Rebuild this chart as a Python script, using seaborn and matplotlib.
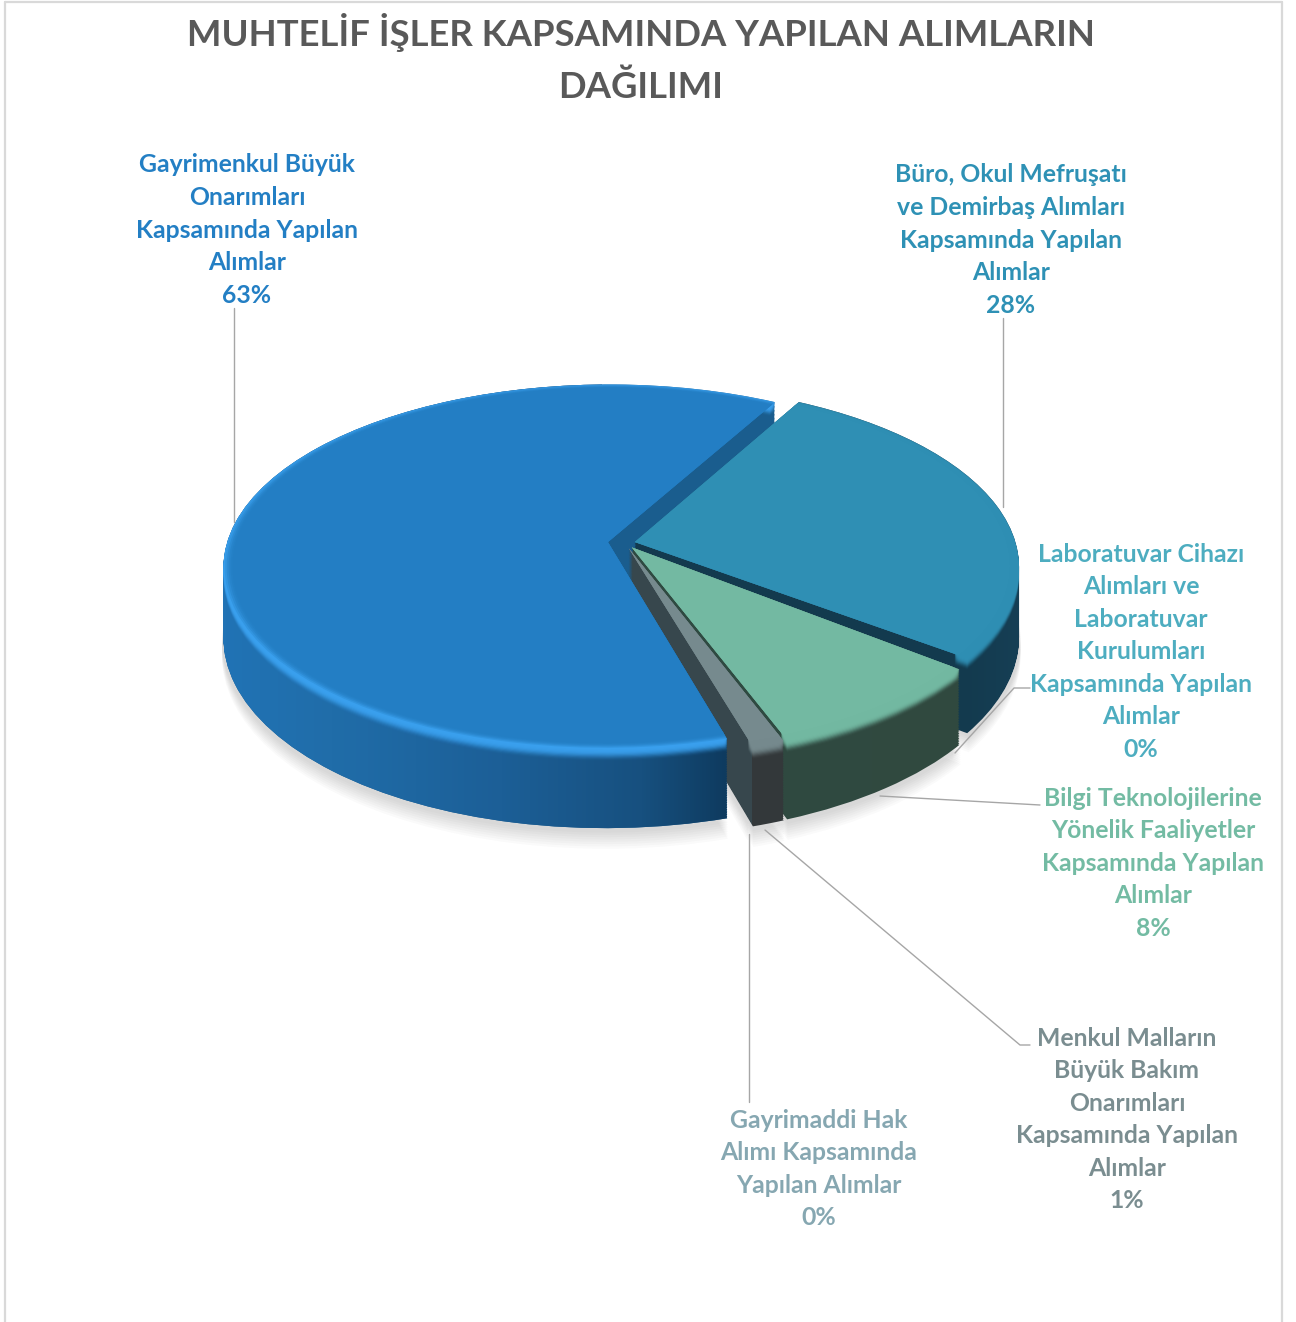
import numpy as np
import seaborn as sns
import matplotlib
matplotlib.use("Agg")
import matplotlib.pyplot as plt
from matplotlib.colors import to_rgb
from matplotlib.path import Path
from matplotlib.transforms import Transform

sns.set_theme(style="white")
plt.rcParams['font.family'] = ['Lato', 'DejaVu Sans']

# clockwise from the upper right
categories = [
    "Büro, Okul Mefruşatı\nve Demirbaş Alımları\nKapsamında Yapılan\nAlımlar",
    "Laboratuvar Cihazı\nAlımları ve\nLaboratuvar\nKurulumları\nKapsamında Yapılan\nAlımlar",
    "Bilgi Teknolojilerine\nYönelik Faaliyetler\nKapsamında Yapılan\nAlımlar",
    "Menkul Malların\nBüyük Bakım\nOnarımları\nKapsamında Yapılan\nAlımlar",
    "Gayrimaddi Hak\nAlımı Kapsamında\nYapılan Alımlar",
    "Gayrimenkul Büyük\nOnarımları\nKapsamında Yapılan\nAlımlar",
]
# slice sizes as measured on the picture, the labels give the rounded figures
percent = [27.15, 0.45, 8.6, 1.2, 0.05, 62.55]
shown_percent = ["28%", "0%", "8%", "1%", "0%", "63%"]
title_lines = ["MUHTELİF İŞLER KAPSAMINDA YAPILAN ALIMLARIN", "DAĞILIMI"]

explode = [0.026, 0, 0.03, 0.03, 0, 0.045]
face_colors = sns.color_palette(["#2f8fb4", "#4aaabc", "#73b9a2", "#768a8e", "#86a7b1", "#237ec4"])
label_colors = ["#2e91b5", "#4dadc0", "#73bba3", "#7a8d90", "#86a7b1", "#237fc4"]
label_pos = [(1011, 175), (1141, 554), (1153, 798), (1127, 1038), (819, 1120), (247, 165)]

# (x stops in pixels, colours) for the side walls
wall_shades = {
    0: ([960, 1020], ["#133a4e", "#163f55"]),
    2: ([780, 960], ["#2f4a41", "#31493f"]),
    3: ([728, 750, 752, 785], ["#37474d", "#37474d", "#33383a", "#33383a"]),
    5: ([224, 330, 500, 640, 728], ["#2173b5", "#206da9", "#1c5f97", "#17507f", "#0e3a5e"]),
}
rim_colors = {0: "#2f8fb4", 2: "#73b9a2", 3: "#768a8e", 5: "#3aa0ee"}

W, H = 1296, 1322
cx, cy, Rx, Ry = 625, 543, 381, 179
K = 0.134
DEPTH = 70


class Tilt(Transform):
    # puts the flat pie on a tilted table, z is how far down in pixels
    input_dims = 2
    output_dims = 2

    def __init__(self, z=0):
        super().__init__()
        self.z = z / Ry

    def transform_non_affine(self, xy):
        xy = np.asarray(xy, dtype=float)
        w = 1 + K * xy[:, 1]
        return np.column_stack([xy[:, 0] / w, (xy[:, 1] - self.z) / w])


def layer(colors, z, radius=1.0, **kw):
    wedges, _ = ax.pie(percent, explode=explode, colors=colors, startangle=61, counterclock=False,
                       radius=radius, wedgeprops=dict(linewidth=0, **kw))
    for w in wedges:
        w.set_transform(Tilt(z) + ax.transData)
    return wedges


def only(wedges, i, zorder):
    for j, w in enumerate(wedges):
        w.set_visible(j == i)
    wedges[i].set_zorder(zorder)
    return wedges[i]


fig = plt.figure(figsize=(W / 100, H / 100), dpi=100, facecolor="white")
ax = fig.add_axes([0, 0, 1, 1])
over = fig.add_axes([0, 0, 1, 1], zorder=5)
over.set_xlim(0, W)
over.set_ylim(H, 0)
over.axis("off")

# soft shadow under the pie
for z in range(DEPTH + 16, DEPTH, -2):
    for w in layer(["#606060"] * 6, z, radius=1.004, alpha=0.03):
        w.set_zorder(1)

order = [5, 0, 2, 3]
wall_order = [0, 2, 3, 5]
extent = ((0 - cx) / Rx, (W - cx) / Rx, (cy - H) / Ry, cy / Ry)
xs = np.arange(0, W, 2)
ys = np.arange(0, H, 2)
clips = {}
for rank, i in enumerate(order):
    base = 20 + rank * 10
    paths = []
    for z in np.arange(0, DEPTH + 0.5, 1.5):
        w = layer(face_colors, z)
        for other in w:
            other.set_visible(False)
        paths.append(Tilt(z).transform_path(w[i].get_path()))
    clips[i] = Path.make_compound_path(*paths)
    # fading rim, a thin ring so it stays off the flat cut faces
    for z in np.arange(11, -0.5, -1.0):
        rim = only(layer(face_colors, z, width=0.035), i, base + 2)
        rim.set_facecolor(rim_colors[i])
        rim.set_alpha(0.9 * (1 - z / 11.5) ** 1.3)
    # top face, its edge melts into the rim
    for radius, alpha in [(0.997, 0.3), (0.992, 0.4), (0.987, 0.5), (0.982, 0.6), (0.977, 1.0)]:
        top = only(layer(face_colors, 0, radius=radius), i, base + 3)
        top.set_alpha(alpha)

# all walls sit under all top faces
for rank, i in enumerate(wall_order):
    stops, cols = wall_shades[i]
    rgb = np.array([to_rgb(c) for c in cols])
    row = np.column_stack([np.interp(xs, stops, rgb[:, k]) for k in range(3)] + [np.ones(len(xs))])
    img = np.repeat(row[None, :, :], len(ys), axis=0)
    if i == 5:
        # the cut face of the big slice is flat and lies behind the other walls,
        # only the round wall stays in front of them
        yy, xx = np.meshgrid(ys, xs, indexing="ij")
        img[(xx > 600) & (yy < 625), 3] = 0
        band = ax.imshow(np.full((2, 2, 3), to_rgb("#1a5d8e")), extent=extent, aspect="auto", zorder=10)
        band.set_clip_path(clips[i], ax.transData)
    im = ax.imshow(img, extent=extent, origin="upper", aspect="auto", interpolation="nearest",
                   zorder=11 + rank)
    im.set_clip_path(clips[i], ax.transData)
ax.set_aspect("auto")
ax.set_xlim(extent[0], extent[1])
ax.set_ylim(extent[2], extent[3])
ax.axis("off")

# outer frame of the screenshot
for xx, yy in [([5, 5], [2, H]), ([1282, 1282], [2, H]), ([5, 1282], [2, 2])]:
    over.plot(xx, yy, color="#d9d9d9", lw=1.6)

# leader lines
leaders = [
    ([1003, 1003], [318, 507]),
    ([1030, 1014, 955], [688, 688, 753]),
    ([880, 1040], [796, 805]),
    ([765, 1020, 1030], [830, 1045, 1045]),
    ([749, 749], [834, 1102]),
    ([234, 234], [308, 522]),
]
for xx, yy in leaders:
    over.plot(xx, yy, color="#a6a6a6", lw=1.0)

# labels, one text per line because the spacing is tight
for name, pct, (x, y), col in zip(categories, shown_percent, label_pos, label_colors):
    for n, line in enumerate(name.split("\n") + [pct]):
        over.text(x, y + n * 32.6, line, ha="center", va="center", color=col,
                  fontsize=17.8, fontweight="bold")

over.text(641, 33, title_lines[0], ha="center", va="center", color="#595959",
          fontsize=26.3, fontweight="bold")
over.text(641, 87, title_lines[1], ha="center", va="center", color="#595959",
          fontsize=26.3, fontweight="bold")

fig.savefig("out.png", dpi=100)
